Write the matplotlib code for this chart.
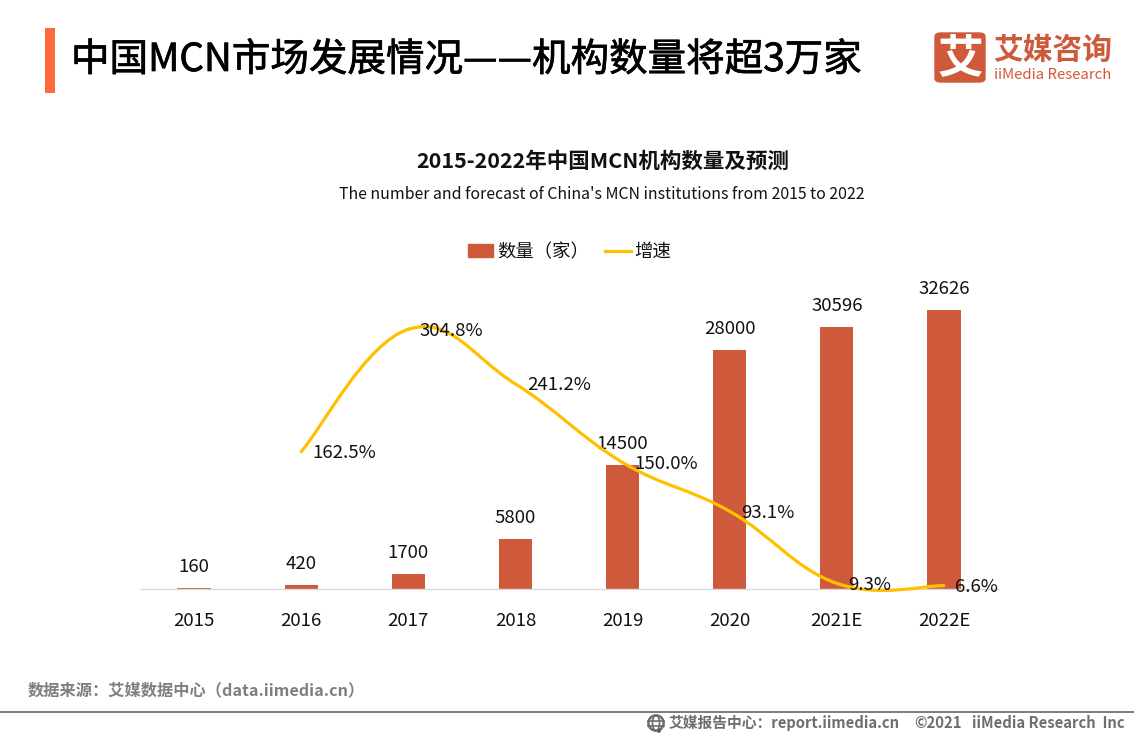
import numpy as np
import matplotlib
matplotlib.use("Agg")
import matplotlib.pyplot as plt
import matplotlib.patheffects as pe
from matplotlib.patches import Rectangle, FancyBboxPatch, Circle, PathPatch, Ellipse
from matplotlib.path import Path
from matplotlib.lines import Line2D

plt.rcParams['font.family'] = ['Noto Sans CJK SC', 'DejaVu Sans']

categories = ['2015', '2016', '2017', '2018', '2019', '2020', '2021E', '2022E']
counts = [160, 420, 1700, 5800, 14500, 28000, 30596, 32626]
growth_years = [1, 2, 3, 4, 5, 6, 7]
growth = [162.5, 304.8, 241.2, 150.0, 93.1, 9.3, 6.6]

W, H = 1134, 737
BAR = '#CF5A3B'
LINE = '#FFC000'
fig = plt.figure(figsize=(W / 100, H / 100), dpi=100, facecolor='white')


def fx(x):
    return x / W


def fy(y):
    return 1 - y / H


def rect(x0, y0, x1, y1, color):
    fig.add_artist(Rectangle((fx(x0), fy(y1)), (x1 - x0) / W, (y1 - y0) / H,
                             transform=fig.transFigure, color=color, lw=0))


def label(x, y, s, size, color='black', ha='left', weight='normal'):
    return fig.text(fx(x), fy(y), s, fontsize=size, color=color, ha=ha, va='center', weight=weight)


# header
rect(45, 28, 55, 93, '#FF6A3C')
title = label(71, 60, '中国MCN市场发展情况——机构数量将超3万家', 27.75, '#000000', weight='medium')
title.set_path_effects([pe.withStroke(linewidth=0.5, foreground='#000000')])

# logo
fig.add_artist(FancyBboxPatch((fx(935), fy(82)), 50 / W, 49 / H,
                              boxstyle='round,pad=0,rounding_size=0.005',
                              transform=fig.transFigure, fc=BAR, ec=BAR, lw=1))
label(960, 59, '艾', 33, 'white', ha='center', weight='bold')
label(993, 50, '艾媒咨询', 21.4, BAR, weight='bold')
label(994, 75, 'iiMedia Research', 10.75, BAR, weight='medium')

# chart titles
label(602.5, 161, '2015-2022年中国MCN机构数量及预测', 15.5, '#111111', ha='center', weight='bold')
label(602, 194.5, "The number and forecast of China's MCN institutions from 2015 to 2022", 11.45, '#111111', ha='center')

# chart
ax = fig.add_axes([fx(140.5), fy(589), 857 / W, 300 / H])
x = np.arange(len(categories))
ax.bar(x, counts, width=0.31, color=BAR, zorder=2)
ax.set_xlim(-0.5, 7.5)
ax.set_ylim(0, 35090)
ax.set_xticks(x, categories)
ax.set_yticks([])
ax.tick_params(axis='x', length=0, pad=16.5, labelsize=13.4, labelcolor='#111111')
for side in ['top', 'left', 'right']:
    ax.spines[side].set_visible(False)
ax.spines['bottom'].set_color('#D9D9D9')
ax.spines['bottom'].set_linewidth(1)
ax.patch.set_alpha(0)
for xi, v in zip(x, counts):
    ax.annotate(str(v), (xi, v), xytext=(0, 21 * 0.72), textcoords='offset points',
                ha='center', va='center', fontsize=13.4, color='#111111', zorder=5)

ax2 = ax.twinx()
ax2.set_ylim(2.7, 351.7)
ax2.set_yticks([])
for side in ax2.spines:
    ax2.spines[side].set_visible(False)

# Excel-like smoothed line: Bezier through the data points
gx = np.array(growth_years, float)
gy = np.array(growth, float)
verts = [(gx[0], gy[0])]
codes = [Path.MOVETO]
t = 0.2
for i in range(len(gx) - 1):
    p0 = i - 1 if i > 0 else i
    p3 = i + 2 if i + 2 < len(gx) else i + 1
    verts.append((gx[i] + t * (gx[i + 1] - gx[p0]), gy[i] + t * (gy[i + 1] - gy[p0])))
    verts.append((gx[i + 1] - t * (gx[p3] - gx[i]), gy[i + 1] - t * (gy[p3] - gy[i])))
    verts.append((gx[i + 1], gy[i + 1]))
    codes += [Path.CURVE4] * 3
ax2.add_patch(PathPatch(Path(verts, codes), fc='none', ec=LINE, lw=2.3, capstyle='round',
                        zorder=3, clip_on=False))
for xi, g in zip(growth_years, growth):
    ax2.annotate(f'{g:.1f}%', (xi, g), xytext=(11.5 * 0.72, -1.5 * 0.72), textcoords='offset points',
                 ha='left', va='center', fontsize=13.4, color='#111111', zorder=6)

# legend
handles = [Rectangle((0, 0), 1, 1, color=BAR),
           Line2D([0], [0], color=LINE, lw=2.3)]
fig.legend(handles, ['数量（家）', '增速'], ncol=2, loc='center', bbox_to_anchor=(fx(569.5), fy(252)),
           frameon=False, fontsize=13.2, handlelength=1.4, handleheight=0.65, handletextpad=0.2,
           columnspacing=0.9, labelcolor='#111111', borderpad=0)

# footer
label(28, 690, '数据来源：艾媒数据中心（data.iimedia.cn）', 11.7, '#7F7F7F', weight='bold')
rect(0, 711, W, 713, '#7F7F7F')
cax = fig.add_axes([fx(646), fy(733), 20 / W, 20 / H])
cax.set_xlim(-10, 10)
cax.set_ylim(-10, 10)
cax.axis('off')
cax.add_patch(Circle((0, 0), 7.6, fc='none', ec='#6E6E6E', lw=1.8))
cax.add_patch(Ellipse((0, 0), 7, 15.2, fc='none', ec='#6E6E6E', lw=1.2))
cax.plot([-7.6, 7.6], [2.5, 2.5], color='#6E6E6E', lw=1.2)
cax.plot([-7.6, 7.6], [-2.5, -2.5], color='#6E6E6E', lw=1.2)
cax.add_patch(Rectangle((1, -9), 3, 4, angle=-25, fc='#555555', lw=0))
label(669, 723, '艾媒报告中心：report.iimedia.cn', 10.65, '#6E6E6E', weight='bold')
label(914, 723, '©2021', 10.65, '#6E6E6E', weight='bold')
label(972, 723, 'iiMedia Research  Inc', 10.65, '#6E6E6E', weight='bold')

fig.savefig('out.png', dpi=100)
